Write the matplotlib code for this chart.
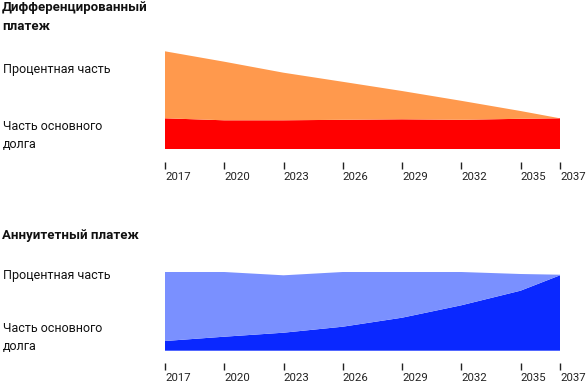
import matplotlib.pyplot as plt

plt.rcParams['font.family'] = ['Roboto', 'DejaVu Sans']

years = [2017, 2020, 2023, 2026, 2029, 2032, 2035, 2037]
tick_labels = [str(y) for y in years]

# differentiated payment
diff_principal = [31, 29, 29, 29.5, 30, 29.5, 30.5, 31]
diff_interest = [67, 58.6, 47.6, 38, 28.3, 19, 7.8, 0]

# annuity payment
ann_principal = [9.7, 14, 18, 24, 33, 45.4, 60, 75.4]
ann_interest = [69, 64.7, 57.4, 54.7, 45.7, 33.3, 16.7, 0.6]

W, H = 588, 384
fig = plt.figure(figsize=(W / 100, H / 100), dpi=100)


def px(x, y):
    return x / W, 1 - y / H


def make_axes(base_y, top_y, ymax):
    left = 165 / W
    width = (560 - 165) / W
    bottom = 1 - base_y / H
    height = (base_y - top_y) / H
    ax = fig.add_axes([left, bottom, width, height])
    ax.set_xlim(2017, 2037)
    ax.set_ylim(0, ymax)
    for s in ['top', 'right', 'left']:
        ax.spines[s].set_visible(False)
    ax.spines['bottom'].set_position(('outward', 9))
    ax.spines['bottom'].set_visible(False)
    ax.set_yticks([])
    ax.set_xticks(years)
    ax.set_xticklabels(tick_labels, ha='left', fontsize=8.2, color='#222222')
    ax.tick_params(axis='x', length=5, width=1, color='#222222', pad=2)
    return ax


ax1 = make_axes(149.3, 51.3, 98)
ax1.stackplot(years, diff_principal, diff_interest,
              colors=['#FF0000', '#FF994D'], linewidth=0)

ax2 = make_axes(350.7, 272, 78.7)
ax2.stackplot(years, ann_principal, ann_interest,
              colors=['#0A28FF', '#7A90FF'], linewidth=0)

# titles and labels
title_kw = dict(fontsize=9.5, fontweight='bold', color='#111111', va='center', ha='left')
label_kw = dict(fontsize=9, color='#111111', va='center', ha='left')

fig.text(*px(2, 7), 'Дифференцированный', **title_kw)
fig.text(*px(2, 26), 'платеж', **title_kw)
fig.text(*px(3, 69), 'Процентная часть', **label_kw)
fig.text(*px(3, 126), 'Часть основного', **label_kw)
fig.text(*px(3, 144), 'долга', **label_kw)

fig.text(*px(2, 236), 'Аннуитетный платеж', **title_kw)
fig.text(*px(3, 276), 'Процентная часть', **label_kw)
fig.text(*px(3, 328), 'Часть основного', **label_kw)
fig.text(*px(3, 346), 'долга', **label_kw)

fig.savefig('out.png', dpi=100)
